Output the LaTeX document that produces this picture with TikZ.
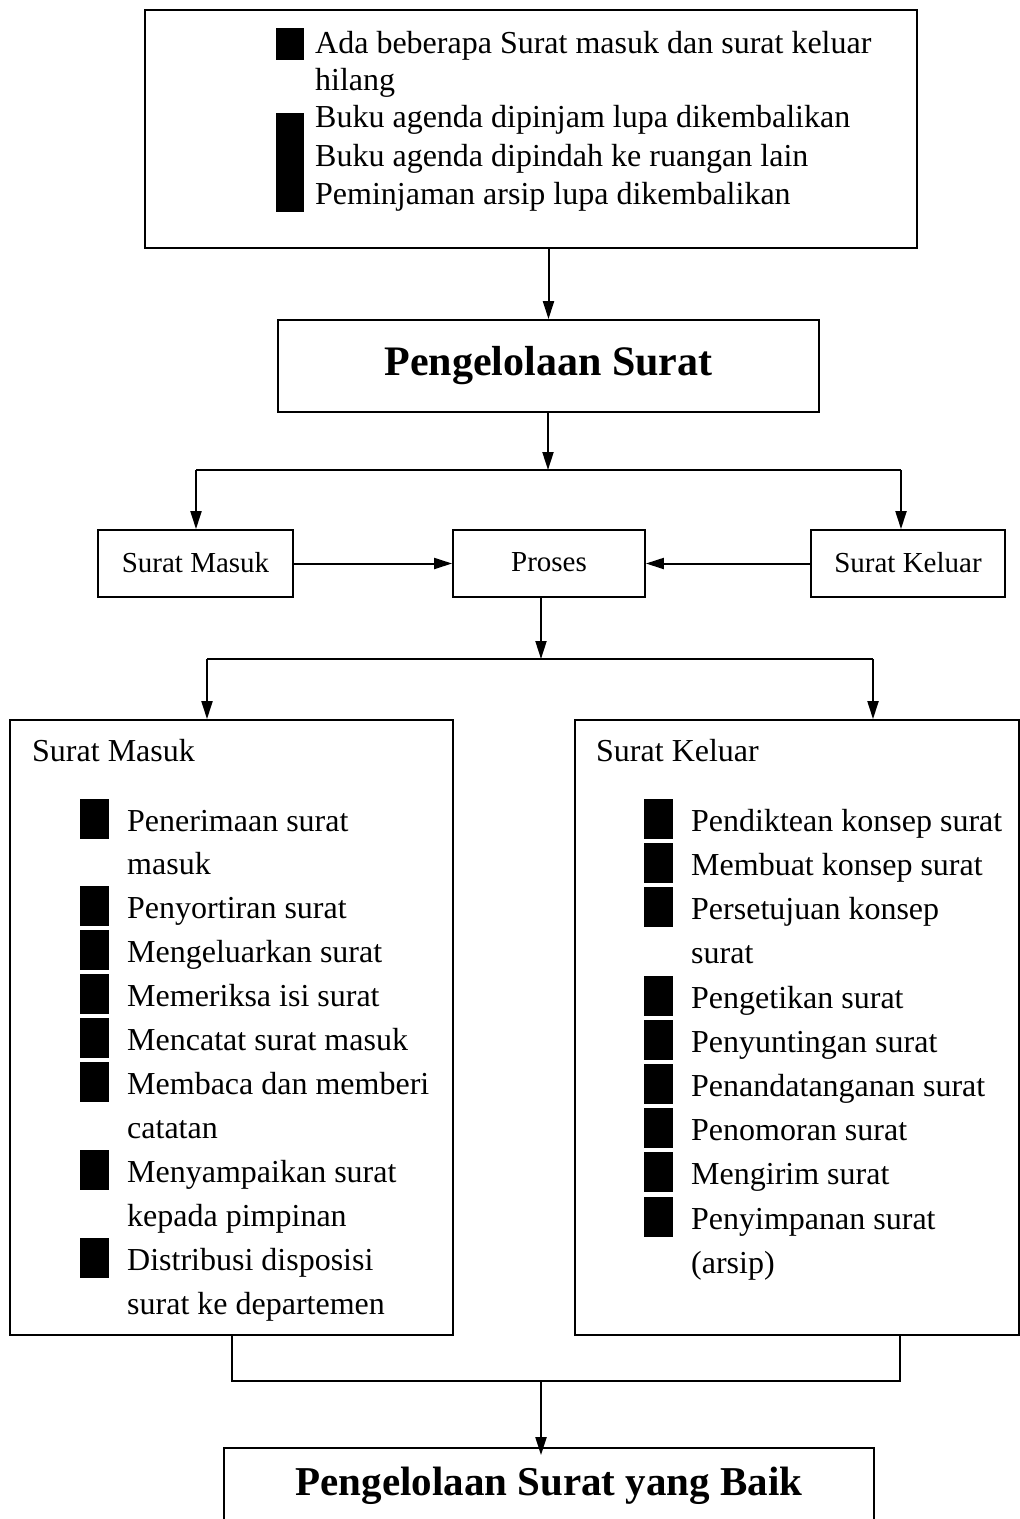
\documentclass[tikz,border=0pt]{standalone}
\usepackage{fontspec}
\setmainfont{Liberation Serif}
\usetikzlibrary{arrows.meta}

\begin{document}
\begin{tikzpicture}[x=1pt,y=-1pt,
  box/.style={draw,line width=1.8pt,inner sep=0pt},
  txt/.style={anchor=base west,inner sep=0pt,font=\fontsize{32}{38}\selectfont},
  small/.style={font=\fontsize{29}{34}\selectfont},
  bul/.style={fill=black,inner sep=0pt,minimum width=29pt,minimum height=40pt},
  arr/.style={line width=2pt,-{Triangle[length=18pt,width=11pt]}},
  ln/.style={line width=2pt}]
\useasboundingbox (0,0) rectangle (1020,1519);

% boxes
\node[box,minimum width=772pt,minimum height=238pt] (masalah) at (531,129) {};
\node[box,minimum width=541pt,minimum height=92pt,font=\fontsize{42}{48}\selectfont\bfseries] (kelola) at (548.5,366) {Pengelolaan Surat};
\node[box,small,minimum width=195pt,minimum height=67pt] (masuk) at (195.5,563.5) {\raisebox{3pt}{Surat Masuk}};
\node[box,small,minimum width=192pt,minimum height=67pt] (proses) at (549,563.5) {\raisebox{3pt}{Proses}};
\node[box,small,minimum width=194pt,minimum height=67pt] (keluar) at (908,563.5) {\raisebox{3pt}{Surat Keluar}};
\node[box,minimum width=443pt,minimum height=615pt] (kiri) at (231.5,1027.5) {};
\node[box,minimum width=444pt,minimum height=615pt] (kanan) at (797,1027.5) {};
\node[box,minimum width=650pt,minimum height=130pt] (baik) at (549,1513) {};
\node[font=\fontsize{41}{48}\selectfont\bfseries,inner sep=0pt] (baiktxt) at (549,1486) {Pengelolaan Surat yang Baik};

% top box text
\node[bul,minimum width=28pt,minimum height=32pt] (b0) at (290,44) {};
\node[bul,minimum width=28pt,minimum height=99pt] (b1) at (290,162.5) {};
\foreach \y/\t [count=\i] in {53/Ada beberapa Surat masuk dan surat keluar,90/hilang,
  127/Buku agenda dipinjam lupa dikembalikan,166/Buku agenda dipindah ke ruangan lain,
  204/Peminjaman arsip lupa dikembalikan}
  \node[txt] (t\i) at (315,\y) {\t};

% left box text
\node[txt] (kirijudul) at (32,761) {Surat Masuk};
\foreach \y/\t [count=\i] in {831/Penerimaan surat,874/masuk,918/Penyortiran surat,
  962/Mengeluarkan surat,1006/Memeriksa isi surat,1050/Mencatat surat masuk,
  1094/Membaca dan memberi,1138/catatan,1182/Menyampaikan surat,1226/kepada pimpinan,
  1270/Distribusi disposisi,1314/surat ke departemen}
  \node[txt] (l\i) at (127,\y) {\t};
\foreach \y [count=\i] in {819,906,950,994,1038,1082,1170,1258}
  \node[bul] (lb\i) at (94,\y) {};

% right box text
\node[txt] (kananjudul) at (596,761) {Surat Keluar};
\foreach \y/\t [count=\i] in {831/Pendiktean konsep surat,875/Membuat konsep surat,
  919/Persetujuan konsep,963/surat,1008/Pengetikan surat,1052/Penyuntingan surat,
  1096/Penandatanganan surat,1140/Penomoran surat,1184/Mengirim surat,
  1229/Penyimpanan surat,1273/(arsip)}
  \node[txt] (r\i) at (691,\y) {\t};
\foreach \y [count=\i] in {819,863,907,996,1040,1084,1128,1172,1217}
  \node[bul] (rb\i) at (658,\y) {};

% connectors
\coordinate (s1) at (548,470);
\coordinate (s2) at (541,659);
\coordinate (s3) at (541,1381);

\path[draw,arr] (masalah.south -| kelola.north) -- (kelola.north);
\path[draw,arr] (kelola.south -| s1) -- (s1);
\path[draw,ln] (196,470) -- (901,470);
\path[draw,arr] (196,470) -- (masuk.north -| 196,0);
\path[draw,arr] (901,470) -- (keluar.north -| 901,0);
\path[draw,arr] (masuk.east) -- (proses.west);
\path[draw,arr] (keluar.west) -- (proses.east);
\path[draw,arr] (proses.south -| s2) -- (s2);
\path[draw,ln] (207,659) -- (873,659);
\path[draw,arr] (207,659) -- (kiri.north -| 207,0);
\path[draw,arr] (873,659) -- (kanan.north -| 873,0);
\path[draw,ln] (kiri.south -| 232,0) -- (232,1381) -- (900,1381) -- (kanan.south -| 900,0);
\path[draw,arr] (s3) -- ([yshift=-8pt]baik.north -| s3);
\end{tikzpicture}
\end{document}
